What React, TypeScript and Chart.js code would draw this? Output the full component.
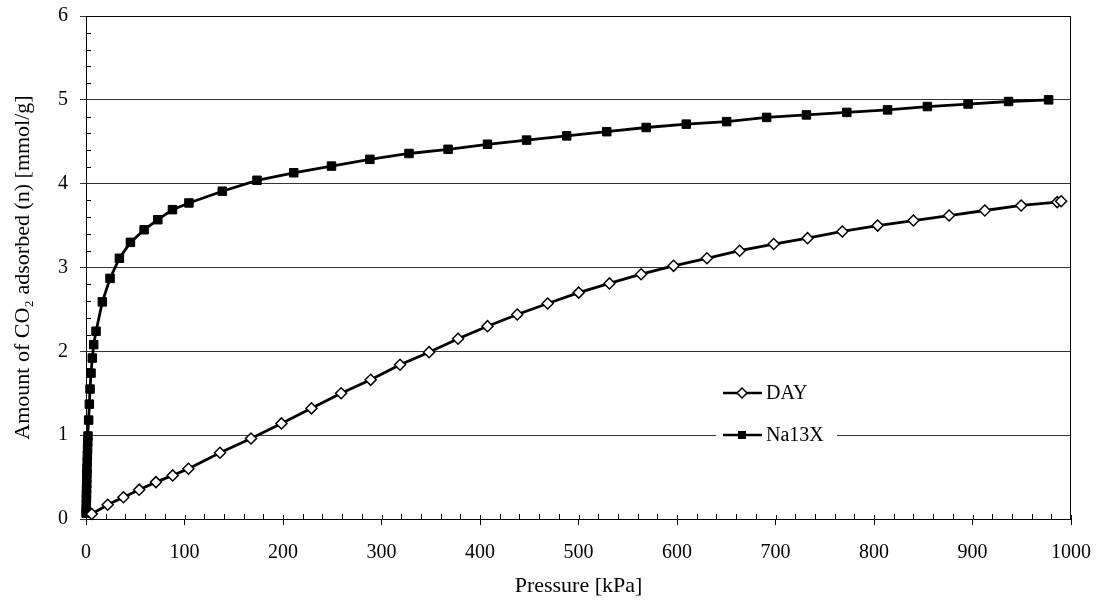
import React, { useEffect, useRef } from "react";
import { Chart, registerables } from "chart.js";

Chart.register(...registerables);

// Pressure [kPa] and amount adsorbed [mmol/g]
const dayPressure = [5.8, 22, 38, 54, 71, 88, 104, 136, 167.5, 198.4, 228.9, 259, 289, 318.8, 348.3, 377.7, 407.6, 437.8, 468.7, 500.2, 531.4, 563.6, 596.5, 630.4, 663.6, 698.2, 732.5, 767.8, 803.7, 840, 876.2, 912.5, 949.4, 986, 990];
const dayAmount = [0.06, 0.17, 0.26, 0.35, 0.44, 0.52, 0.6, 0.79, 0.96, 1.14, 1.32, 1.5, 1.66, 1.84, 1.99, 2.15, 2.3, 2.44, 2.57, 2.7, 2.81, 2.92, 3.02, 3.11, 3.2, 3.28, 3.35, 3.43, 3.5, 3.56, 3.62, 3.68, 3.74, 3.78, 3.79];

const naPressure = [0.1, 0.2, 0.3, 0.4, 0.5, 0.6, 0.7, 0.8, 0.9, 1.0, 1.2, 1.4, 1.6, 1.8, 2.0, 2.7, 3.4, 4.1, 5.1, 6.4, 7.8, 10.2, 16.6, 24.4, 33.9, 45.1, 59, 72.9, 87.8, 104.5, 138.4, 173.6, 210.9, 249.2, 288.2, 327.9, 367.6, 407.6, 447.3, 488, 528.7, 568.7, 609.4, 650.4, 691, 731.4, 772.4, 813.8, 854.2, 895.5, 936.6, 977.3];
const naAmount = [0.07, 0.12, 0.18, 0.24, 0.3, 0.36, 0.42, 0.48, 0.54, 0.6, 0.68, 0.76, 0.84, 0.92, 0.99, 1.18, 1.37, 1.55, 1.74, 1.92, 2.08, 2.24, 2.59, 2.87, 3.11, 3.3, 3.45, 3.57, 3.69, 3.77, 3.91, 4.04, 4.13, 4.21, 4.29, 4.36, 4.41, 4.47, 4.52, 4.57, 4.62, 4.67, 4.71, 4.74, 4.79, 4.82, 4.85, 4.88, 4.92, 4.95, 4.98, 5.0];

const xTicks = [0, 100, 200, 300, 400, 500, 600, 700, 800, 900, 1000];
const yTicks = [0, 1, 2, 3, 4, 5, 6];
const seriesNames = ["DAY", "Na13X"];

const FONT = "'Liberation Serif', 'Times New Roman', serif";

const decorPlugin = {
  id: "decor",
  afterDraw(chart: any) {
    const ctx = chart.ctx;
    const xs = chart.scales.x;
    const ys = chart.scales.y;
    const a = chart.chartArea;
    ctx.save();
    ctx.strokeStyle = "#000";
    ctx.lineWidth = 1;
    // border box
    ctx.strokeRect(a.left + 0.5, a.top + 0.5, a.right - a.left - 1, a.bottom - a.top);
    ctx.beginPath();
    // minor ticks x (every 20), pointing inside
    for (let v = 20; v < 1000; v += 20) {
      if (v % 100 === 0) continue;
      const px = Math.round(xs.getPixelForValue(v)) + 0.5;
      ctx.moveTo(px, a.bottom);
      ctx.lineTo(px, a.bottom - 5);
    }
    // major ticks x cross the axis
    for (const v of xTicks) {
      const px = Math.round(xs.getPixelForValue(v)) + 0.5;
      ctx.moveTo(px, a.bottom);
      ctx.lineTo(px, a.bottom - 4);
    }
    // minor ticks y (every 0.2), pointing inside
    for (let i = 1; i < 30; i++) {
      if (i % 5 === 0) continue;
      const py = Math.round(ys.getPixelForValue(i * 0.2)) + 0.5;
      ctx.moveTo(a.left, py);
      ctx.lineTo(a.left + 5, py);
    }
    ctx.stroke();

    // legend
    const lx = 716;
    const items = [
      { name: seriesNames[0], y: 393, style: "rectRot", fill: "#fff", r: 5 },
      { name: seriesNames[1], y: 435, style: "rect", fill: "#000", r: 4 },
    ];
    ctx.fillStyle = "#fff";
    ctx.fillRect(lx, 375, 121, 76);
    ctx.font = `20px ${FONT}`;
    ctx.textBaseline = "middle";
    for (const it of items) {
      ctx.strokeStyle = "#000";
      ctx.lineWidth = 2.5;
      ctx.beginPath();
      ctx.moveTo(lx + 7, it.y);
      ctx.lineTo(lx + 46, it.y);
      ctx.stroke();
      ctx.lineWidth = 1.5;
      ctx.fillStyle = it.fill;
      const cx = lx + 26;
      if (it.style === "rectRot") {
        ctx.beginPath();
        ctx.moveTo(cx, it.y - it.r);
        ctx.lineTo(cx + it.r, it.y);
        ctx.lineTo(cx, it.y + it.r);
        ctx.lineTo(cx - it.r, it.y);
        ctx.closePath();
        ctx.fill();
        ctx.stroke();
      } else {
        ctx.fillRect(cx - it.r, it.y - it.r, it.r * 2, it.r * 2);
      }
      ctx.fillStyle = "#000";
      ctx.fillText(it.name, lx + 50, it.y + 1);
    }
    ctx.restore();
  },
};

export default function App() {
  const ref = useRef<HTMLCanvasElement>(null);
  useEffect(() => {
    const canvas = ref.current!;
    const chart = new Chart(canvas, {
      type: "scatter",
      data: {
        datasets: [
          {
            label: seriesNames[0],
            data: dayPressure.map((p, i) => ({ x: p, y: dayAmount[i] })),
            showLine: true,
            clip: false,
            borderColor: "#000",
            borderWidth: 2.8,
            pointStyle: "rectRot",
            pointRadius: 5.5,
            pointBackgroundColor: "#fff",
            pointBorderColor: "#000",
            pointBorderWidth: 1.5,
            tension: 0,
          },
          {
            label: seriesNames[1],
            data: naPressure.map((p, i) => ({ x: p, y: naAmount[i] })),
            showLine: true,
            clip: false,
            borderColor: "#000",
            borderWidth: 2.8,
            pointStyle: "rect",
            pointRadius: 6,
            pointBackgroundColor: "#000",
            pointBorderColor: "#000",
            pointBorderWidth: 1,
            tension: 0,
          },
        ],
      },
      options: {
        animation: false,
        responsive: false,
        layout: { padding: { left: 0, top: 16, right: 34, bottom: 0 } },
        plugins: { legend: { display: false }, tooltip: { enabled: false } },
        scales: {
          x: {
            type: "linear",
            min: 0,
            max: 1000,
            afterBuildTicks: (s: any) => {
              s.ticks = xTicks.map((v) => ({ value: v }));
            },
            afterFit: (s: any) => {
              s.height = 86;
              s.paddingLeft = 0;
              s.paddingRight = 0;
            },
            ticks: {
              color: "#000",
              font: { family: FONT, size: 20 },
              padding: 16,
              maxRotation: 0,
              callback: (v: any) => String(v),
            },
            grid: { drawOnChartArea: false, drawTicks: true, tickLength: 6, color: "#000" },
            border: { display: true, color: "#000", width: 1 },
            title: {
              display: true,
              text: "Pressure [kPa]",
              color: "#000",
              font: { family: FONT, size: 22 },
              padding: { top: 0, bottom: 6 },
            },
          },
          y: {
            type: "linear",
            min: 0,
            max: 6,
            afterBuildTicks: (s: any) => {
              s.ticks = yTicks.map((v) => ({ value: v }));
            },
            afterFit: (s: any) => {
              s.width = 86;
              s.paddingTop = 0;
              s.paddingBottom = 0;
            },
            ticks: { color: "#000", font: { family: FONT, size: 20 }, padding: 12 },
            grid: { drawOnChartArea: true, drawTicks: true, tickLength: 6, color: "#333", lineWidth: 1 },
            border: { display: true, color: "#000", width: 1 },
            title: {
              display: true,
              text: "Amount of CO₂ adsorbed (n) [mmol/g]",
              color: "#000",
              font: { family: FONT, size: 22 },
              padding: { top: 10, bottom: 0 },
            },
          },
        },
      },
      plugins: [decorPlugin],
    });
    return () => chart.destroy();
  }, []);
  return (
    <div style={{ position: "absolute", left: 0, top: 0, width: 1105, height: 605, background: "#fff" }}>
      <canvas ref={ref} width={1105} height={605} style={{ width: 1105, height: 605 }} />
    </div>
  );
}
